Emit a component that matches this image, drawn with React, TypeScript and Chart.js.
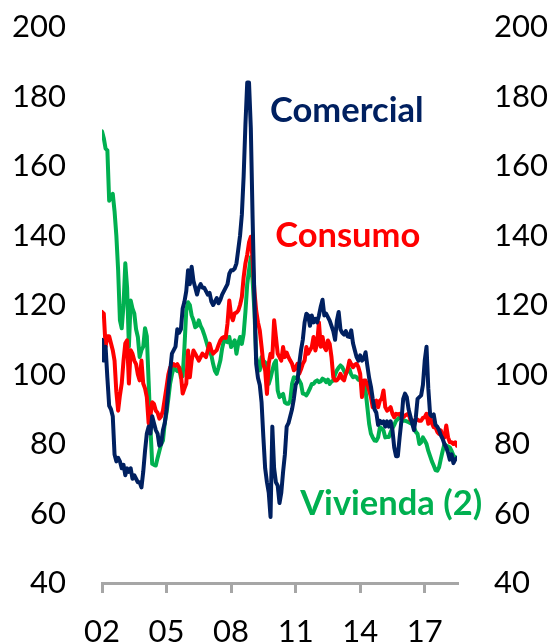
import React, { useEffect, useRef } from "react";
import { Chart, registerables } from "chart.js";

Chart.register(...registerables);

// Monthly series, Jan 2002 .. Jul 2018
const startYear = 2002;
const lastYear = 2018.5;

const comercial = [
  110, 104, 108, 99, 91, 90, 88, 77, 75, 76, 75, 73, 74, 71, 73, 72, 73, 70, 71, 70,
  69, 69, 67.5, 72, 78, 83, 85, 83, 88, 86, 84, 83, 79.5, 80, 84, 86, 90, 96, 101, 106,
  107, 108, 113, 112, 113, 119, 121, 124, 130, 126, 131, 127, 125, 123, 125, 126, 125, 125, 124, 123,
  123.5, 121, 120, 121, 122, 120.5, 121.5, 123, 124, 125, 126, 129, 130, 130, 130.5, 132, 136, 140, 146, 157,
  172, 184, 184, 171, 145, 122, 103, 99, 97, 92, 82, 73, 69, 66, 59, 85, 73, 69, 68, 63,
  66, 72, 77, 85, 86, 88, 90, 93, 97, 98, 103, 107, 110, 115, 117.5, 117, 114, 117, 115, 116,
  115, 117, 119.5, 121.5, 117, 117.5, 116.5, 115.5, 114, 112.5, 110, 115.5, 118, 113, 112, 111.5, 112.5, 111, 110.8, 112.7,
  109, 107, 105, 104, 105.5, 104, 104.5, 106.4, 102.5, 99, 96.5, 93, 90, 89, 85.5, 86.7, 86, 86.5, 85, 86.5,
  85, 86.5, 84, 79, 76.5, 76.5, 81.9, 86.7, 93, 94.5, 93.5, 90, 88, 86, 84, 87.5, 93, 93.5, 94, 97,
  104, 108, 96, 88.5, 88, 88.5, 85.5, 85, 84, 82.5, 81.5, 80, 79, 77.5, 75.5, 77, 74.5, 75.5, 76,
];

const consumo = [
  118, 117.5, 108, 111, 111, 109, 107, 104, 95, 89.6, 94, 97.4, 104, 109, 109.8, 97.4, 107, 106, 104, 103,
  100, 98.3, 104, 97.4, 96, 93.5, 86, 88, 92, 91.5, 89.6, 89, 87.3, 88, 89.6, 93, 96.4, 100, 102, 102.5,
  103, 102.5, 103, 102, 100, 94.5, 96, 97.4, 106.9, 99.2, 104, 106.9, 106, 105, 104, 105, 106, 105.5, 105, 107,
  108.9, 107, 106, 106.5, 107, 108.5, 109.8, 110.5, 110.8, 110.5, 114.7, 121.3, 117, 115.6, 117.6, 117.8, 118.4, 120, 122.3, 128,
  132, 134.5, 138, 139.6, 133, 124, 118.4, 115, 112.7, 108, 103, 101.2, 94.4, 103.2, 106, 105, 115.6, 110.8, 106, 105,
  104, 107.9, 105, 106.3, 105, 104, 103.1, 101.2, 102, 103.1, 100.2, 101.5, 103.1, 104, 107.9, 106, 107, 107.9, 110.8, 106.9,
  109, 115, 108, 110.8, 107.9, 107, 109.8, 108.8, 105, 99.2, 98.3, 98.3, 99, 100.2, 98.8, 98.3, 100.2, 101.5, 104, 103,
  102.1, 102.8, 103.1, 102.1, 100.2, 93.5, 98.3, 98.3, 97, 95.4, 93.5, 90.6, 92, 92.5, 90.6, 92.5, 93, 95.4, 90.6, 89.6,
  90, 90.6, 88.7, 87.7, 88.7, 88.5, 88.7, 88, 87.7, 88.2, 88.5, 88.7, 87, 86.7, 86.3, 87.2, 87, 86.7, 86.7, 87.5,
  87.7, 88.7, 85.8, 87.7, 86, 84.8, 84.8, 83.5, 82.9, 83.9, 81.9, 81.9, 85.3, 81.9, 80.5, 80.5, 80, 80.5, 79.5,
];

const vivienda = [
  170, 168, 165, 164.5, 150, 151, 152, 147, 140, 130, 115.6, 113.3, 120, 132, 125, 108, 121.3, 119, 117.6, 113,
  110.8, 105, 107, 108, 113.3, 111, 98, 85, 74.3, 74, 73.8, 76, 78, 80, 81, 86, 89, 93, 97.4, 100,
  102.1, 101.5, 101, 102, 99.2, 99.5, 108, 118.4, 120.8, 120, 117, 115.6, 113.6, 114, 115.6, 114, 113, 111.5, 109.8, 108,
  106.5, 105.5, 103, 101, 100.2, 102, 104, 107.5, 109.8, 109.5, 109.3, 110.8, 107.9, 109, 109.8, 106, 109, 110.8, 108.8, 111.7,
  118, 126, 130, 133.8, 127, 118.4, 105, 103, 101.2, 105, 104, 103.5, 101, 97.3, 99, 101.2, 103.1, 104, 95.4, 93.5,
  94, 94.4, 92, 91.6, 91.6, 92.5, 97.3, 99.2, 99, 99.2, 98.3, 97.3, 94.5, 94.4, 94, 94.9, 96, 97.3, 97.3, 98,
  98.3, 97.8, 98, 98.8, 98.5, 97.8, 98.5, 97.3, 98, 98.3, 100, 101.2, 102, 102.6, 102.1, 101, 100.2, 101, 101.6, 100,
  99.2, 99.5, 99.2, 98.5, 98.3, 97.8, 97.3, 95.4, 90.6, 85.8, 83, 81.9, 81, 80.9, 81.9, 84.8, 84.5, 83.9, 81.9, 82,
  82, 83.4, 84.5, 85.5, 86.7, 87.2, 87.7, 87.2, 86.7, 86.7, 86.5, 86.3, 86, 85.8, 84.8, 83.5, 82.9, 80, 80.5, 81.9,
  81, 80, 78, 76.5, 75, 73.8, 72.5, 72.3, 73.3, 75.7, 78, 80, 79.5, 79.3, 79, 78, 76.7, 76.2, 76,
];

const xTickYears = [2002, 2005, 2008, 2011, 2014, 2017];
const yMin = 40;
const yMax = 200;
const yStep = 20;

const seriesNames = ["Comercial", "Consumo", "Vivienda (2)"];
const seriesColors = ["#002060", "#FF0000", "#00B050"];
const labelX = [2009.81, 2010.05, 2011.21];
const labelY = [172.6, 136.8, 59.6];

const toPoints = (vals: number[]) =>
  vals.map((v, i) => ({ x: startYear + i / 12, y: v }));

const seriesLabelPlugin = {
  id: "seriesLabels",
  afterDatasetsDraw(chart: any) {
    const { ctx, scales } = chart;
    const xs = scales.x;
    const ys = scales.y;
    ctx.save();
    ctx.font = "bold 34.5px Lato";
    ctx.textAlign = "left";
    ctx.textBaseline = "alphabetic";
    seriesNames.forEach((name, k) => {
      ctx.fillStyle = seriesColors[k];
      ctx.fillText(name, xs.getPixelForValue(labelX[k]), ys.getPixelForValue(labelY[k]));
    });
    ctx.restore();
  },
};

export default function App() {
  const ref = useRef<HTMLCanvasElement | null>(null);

  useEffect(() => {
    if (!ref.current) return;
    const tickFont = { family: "Lato", size: 31 };
    const chart = new Chart(ref.current, {
      type: "line",
      data: {
        datasets: [
          { label: seriesNames[0], data: toPoints(comercial), borderColor: seriesColors[0], borderWidth: 4 },
          { label: seriesNames[1], data: toPoints(consumo), borderColor: seriesColors[1], borderWidth: 4 },
          { label: seriesNames[2], data: toPoints(vivienda), borderColor: seriesColors[2], borderWidth: 4 },
        ].map((d) => ({
          ...d,
          pointRadius: 0,
          tension: 0,
          fill: false,
          borderJoinStyle: "round" as const,
          borderCapStyle: "round" as const,
        })),
      },
      options: {
        animation: false,
        responsive: false,
        devicePixelRatio: 1,
        layout: { padding: { top: 27, left: 0, right: 0, bottom: 0 } },
        plugins: { legend: { display: false }, tooltip: { enabled: false } },
        scales: {
          x: {
            type: "linear",
            min: startYear,
            max: lastYear,
            afterBuildTicks: (scale: any) => {
              scale.ticks = xTickYears.map((v) => ({ value: v }));
            },
            afterFit: (scale: any) => {
              scale.height = 60;
              scale.paddingLeft = 0;
              scale.paddingRight = 0;
            },
            ticks: {
              font: tickFont,
              color: "#000000",
              padding: 20,
              maxRotation: 0,
              autoSkip: false,
              callback: (v: any) => String(Number(v) % 100).padStart(2, "0"),
            },
            grid: {
              display: true,
              drawOnChartArea: false,
              drawTicks: true,
              tickLength: 10,
              color: "#A6A6A6",
              lineWidth: 3,
            },
            border: { display: true, color: "#A6A6A6", width: 3 },
          },
          y: {
            position: "left",
            min: yMin,
            max: yMax,
            afterFit: (scale: any) => {
              scale.width = 102;
              scale.paddingTop = 0;
              scale.paddingBottom = 0;
            },
            ticks: { stepSize: yStep, font: tickFont, color: "#000000", padding: 36 },
            grid: { display: false, drawTicks: false },
            border: { display: false },
          },
          y2: {
            position: "right",
            display: true,
            min: yMin,
            max: yMax,
            afterFit: (scale: any) => {
              scale.width = 95;
              scale.paddingTop = 0;
              scale.paddingBottom = 0;
            },
            ticks: { stepSize: yStep, font: tickFont, color: "#000000", padding: 37 },
            grid: { display: false, drawTicks: false },
            border: { display: false },
          },
        },
      },
      plugins: [seriesLabelPlugin],
    });
    return () => chart.destroy();
  }, []);

  return (
    <div style={{ position: "absolute", left: 0, top: 0, width: 552, height: 643, background: "#fff" }}>
      <canvas ref={ref} width={552} height={643} style={{ width: 552, height: 643 }} />
    </div>
  );
}
